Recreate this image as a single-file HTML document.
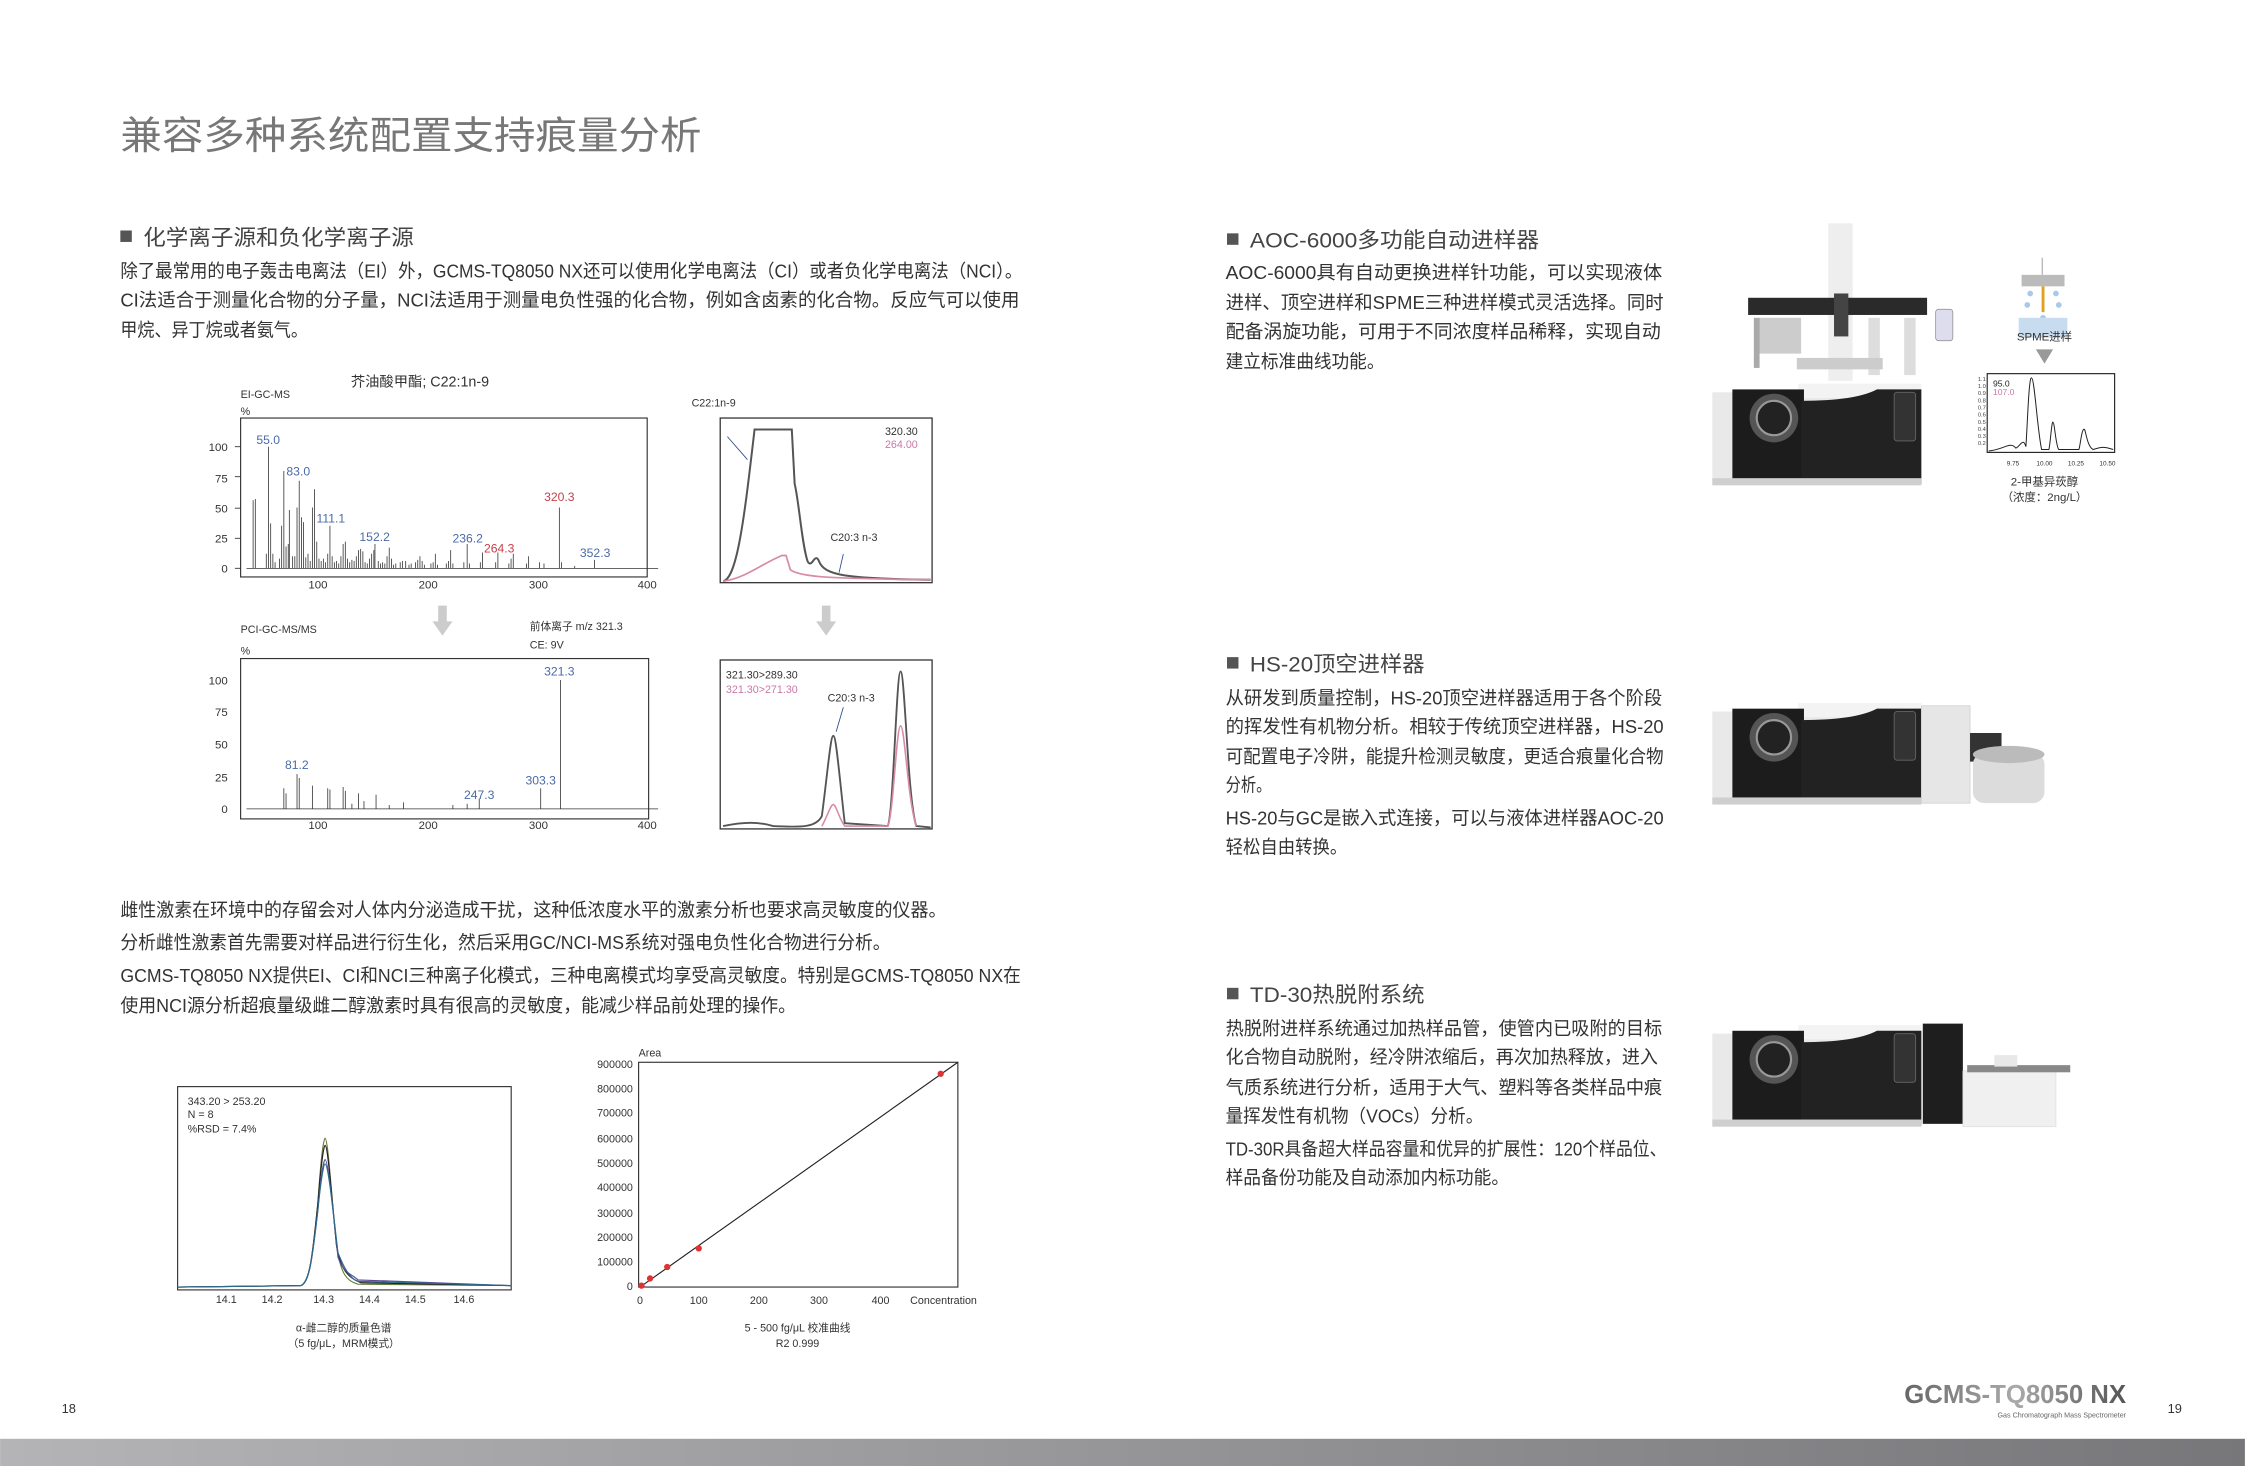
<!DOCTYPE html>
<html><head><meta charset="utf-8"><style>
html,body{margin:0;padding:0;background:#fff;}
svg{display:block;}
text{font-family:"Liberation Sans","Noto Sans CJK SC",sans-serif;}
.b{font-size:13px;fill:#333;}
.h{font-size:15px;fill:#444;}
.ax{font-size:8px;fill:#333;}
.bl{font-size:8.5px;fill:#4a6aa8;}
.rd{font-size:8.5px;fill:#c8404a;}
.s{font-size:7.5px;fill:#333;}
</style></head><body>
<svg width="2245" height="1466" viewBox="0 0 1568 1024" xmlns="http://www.w3.org/2000/svg">
<defs>
<linearGradient id="bar" x1="0" x2="1"><stop offset="0" stop-color="#b4b4b6"/><stop offset="1" stop-color="#77777a"/></linearGradient>
<linearGradient id="logo" x1="0" x2="1"><stop offset="0" stop-color="#666"/><stop offset="0.5" stop-color="#aaa"/><stop offset="1" stop-color="#555"/></linearGradient>
<g id="gc">
<rect x="0" y="6" width="146" height="64" fill="#e9e9ea"/>
<rect x="60" y="0" width="86" height="10" fill="#f3f3f3"/>
<rect x="14" y="4" width="50" height="64" fill="#1c1c1c"/>
<circle cx="43" cy="24" r="17" fill="#555"/>
<circle cx="43" cy="24" r="12" fill="#222" stroke="#999" stroke-width="1.5"/>
<path d="M62 70 L62 12 Q100 12 115 4 L146 4 L146 70 Z" fill="#222"/>
<rect x="127" y="6" width="15" height="34" rx="2" fill="#333" stroke="#666" stroke-width="0.6"/>
<rect x="0" y="66" width="146" height="5" fill="#cfcfcf"/>
</g>
<g id="arr"><rect x="-3" y="0" width="6" height="12" fill="#ccc"/><path d="M-7 11 L7 11 L0 21 Z" fill="#ccc"/></g>
</defs>

<text x="84" y="104" font-size="27" fill="#777" textLength="406" lengthAdjust="spacingAndGlyphs">兼容多种系统配置支持痕量分析</text>

<rect x="84" y="161" width="8" height="8" fill="#555"/>
<text x="100" y="171" class="h" textLength="189" lengthAdjust="spacingAndGlyphs">化学离子源和负化学离子源</text>
<text x="84" y="194" class="b" textLength="630" lengthAdjust="spacingAndGlyphs">除了最常用的电子轰击电离法（EI）外，GCMS-TQ8050 NX还可以使用化学电离法（CI）或者负化学电离法（NCI）。</text>
<text x="84" y="214" class="b" textLength="628" lengthAdjust="spacingAndGlyphs">CI法适合于测量化合物的分子量，NCI法适用于测量电负性强的化合物，例如含卤素的化合物。反应气可以使用</text>
<text x="84" y="235" class="b" textLength="131" lengthAdjust="spacingAndGlyphs">甲烷、异丁烷或者氨气。</text>

<text x="245" y="270" font-size="10" fill="#333">芥油酸甲酯; C22:1n-9</text>
<text x="168" y="278" class="s">EI-GC-MS</text>
<text x="168" y="290" class="s">%</text>
<rect x="168" y="292" width="284" height="111" fill="none" stroke="#333" stroke-width="0.8"/>
<g class="ax" text-anchor="end"><text x="159" y="315">100</text><text x="159" y="337">75</text><text x="159" y="358">50</text><text x="159" y="379">25</text><text x="159" y="400">0</text></g>
<g class="ax" text-anchor="middle"><text x="222" y="411">100</text><text x="299" y="411">200</text><text x="376" y="411">300</text><text x="452" y="411">400</text></g>
<g stroke="#333" stroke-width="0.6"><path d="M164 312H168M164 333H168M164 355H168M164 376H168M164 397H168"/></g>
<g transform="translate(145.3,397) scale(0.7667,-0.85)" stroke="#333" stroke-width="0.8" fill="none">
<path vector-effect="non-scaling-stroke" d="M41 0V56M43 0V57M53 0V12M55 0V100M57 0V37M59 0V12M61 0V5M65 0V8M67 0V35M69 0V80M71 0V18M73 0V20M74 0V48M77 0V10M79 0V10M81 0V50M83 0V72M85 0V42M87 0V38M89 0V9M91 0V12M93 0V6M95 0V50M97 0V65M99 0V22M101 0V8M103 0V6M105 0V8M107 0V5M109 0V12M111 0V35M113 0V10M115 0V5M117 0V6M119 0V4M121 0V10M123 0V20M125 0V22M127 0V8M129 0V5M131 0V7M133 0V6M135 0V10M137 0V15M139 0V16M141 0V14M143 0V5M145 0V4M147 0V8M149 0V12M151 0V15M152 0V20M155 0V6M157 0V4M159 0V5M161 0V4M163 0V10M165 0V17M167 0V8M169 0V3M171 0V4M175 0V5M177 0V6M180 0V6M183 0V3M185 0V4M189 0V5M191 0V7M193 0V10M195 0V6M197 0V3M203 0V4M205 0V5M207 0V12M209 0V3M217 0V4M219 0V6M221 0V15M223 0V4M233 0V5M236 0V20M238 0V4M248 0V5M250 0V13M262 0V5M264 0V13M274 0V4M276 0V8M278 0V12M290 0V4M292 0V10M302 0V5M306 0V4M320 0V50M322 0V5M334 0V2M352 0V7M35 0H410"/>
</g>
<g class="bl"><text x="179" y="310">55.0</text><text x="200" y="332">83.0</text><text x="221" y="365">111.1</text><text x="251" y="378">152.2</text><text x="316" y="379">236.2</text><text x="405" y="389">352.3</text></g>
<g class="rd"><text x="338" y="386">264.3</text><text x="380" y="350">320.3</text></g>

<text x="483" y="284" class="s">C22:1n-9</text>
<rect x="503" y="292" width="148" height="115" fill="none" stroke="#333" stroke-width="0.9"/>
<path d="M505 406 C515 404 520 360 527 300 L553 300 L555 338 C558 350 560 380 564 392 C567 398 569 385 572 392 C576 402 590 404 650 405" fill="none" stroke="#555" stroke-width="1.4"/>
<path d="M505 406 C520 404 530 395 546 388 L549 388 L552 398 C560 404 590 404 650 405" fill="none" stroke="#d88aa8" stroke-width="1.2"/>
<text x="641" y="304" class="s" text-anchor="end">320.30</text>
<text x="641" y="313" class="s" text-anchor="end" style="fill:#c87aa8">264.00</text>
<text x="580" y="378" class="s">C20:3 n-3</text>
<path d="M508 305 L522 321 M589 387 L586 400" stroke="#2a4a8a" stroke-width="0.6" fill="none"/>

<use href="#arr" x="309" y="423"/>
<use href="#arr" x="577" y="423"/>

<text x="168" y="442" class="s">PCI-GC-MS/MS</text>
<text x="168" y="457" class="s">%</text>
<text x="370" y="440" class="s">前体离子 m/z 321.3</text>
<text x="370" y="453" class="s">CE: 9V</text>
<rect x="168" y="460" width="285" height="112" fill="none" stroke="#333" stroke-width="0.8"/>
<g class="ax" text-anchor="end"><text x="159" y="478">100</text><text x="159" y="500">75</text><text x="159" y="523">50</text><text x="159" y="546">25</text><text x="159" y="568">0</text></g>
<g class="ax" text-anchor="middle"><text x="222" y="579">100</text><text x="299" y="579">200</text><text x="376" y="579">300</text><text x="452" y="579">400</text></g>
<g transform="translate(145.3,565) scale(0.7667,-0.9)" stroke="#333" stroke-width="0.8" fill="none">
<path vector-effect="non-scaling-stroke" d="M69 0V16M71 0V12M81 0V27M83 0V24M95 0V18M109 0V16M111 0V15M123 0V17M125 0V14M131 0V4M137 0V12M142 0V6M153 0V11M165 0V3M178 0V5M223 0V3M236 0V4M247 0V8M303 0V16M321 0V100M35 0H410"/>
</g>
<g class="bl"><text x="199" y="537">81.2</text><text x="324" y="558">247.3</text><text x="367" y="548">303.3</text><text x="380" y="472">321.3</text></g>

<rect x="503" y="461" width="148" height="118" fill="none" stroke="#333" stroke-width="0.9"/>
<path d="M505 577 C520 574 530 574 540 577 C560 578 570 578 574 570 C578 540 580 514 582 514 C584 514 586 540 590 575 L620 577 C624 570 626 469 629 469 C632 469 634 560 640 577 L650 578" fill="none" stroke="#555" stroke-width="1.3"/>
<path d="M574 577 C578 570 580 562 582 562 C584 562 586 572 590 577 L620 577 C624 570 626 507 629 507 C632 507 634 560 640 577" fill="none" stroke="#d88aa8" stroke-width="1.1"/>
<text x="507" y="474" class="s">321.30&gt;289.30</text>
<text x="507" y="484" class="s" style="fill:#c87aa8">321.30&gt;271.30</text>
<text x="578" y="490" class="s">C20:3 n-3</text>
<path d="M589 494 L584 511" stroke="#2a4a8a" stroke-width="0.6"/>

<text x="84" y="640" class="b" textLength="577" lengthAdjust="spacingAndGlyphs">雌性激素在环境中的存留会对人体内分泌造成干扰，这种低浓度水平的激素分析也要求高灵敏度的仪器。</text>
<text x="84" y="663" class="b" textLength="538" lengthAdjust="spacingAndGlyphs">分析雌性激素首先需要对样品进行衍生化，然后采用GC/NCI-MS系统对强电负性化合物进行分析。</text>
<text x="84" y="686" class="b" textLength="629" lengthAdjust="spacingAndGlyphs">GCMS-TQ8050 NX提供EI、CI和NCI三种离子化模式，三种电离模式均享受高灵敏度。特别是GCMS-TQ8050 NX在</text>
<text x="84" y="707" class="b" textLength="472" lengthAdjust="spacingAndGlyphs">使用NCI源分析超痕量级雌二醇激素时具有很高的灵敏度，能减少样品前处理的操作。</text>

<rect x="124" y="759" width="233" height="142" fill="none" stroke="#333" stroke-width="0.8"/>
<text x="131" y="772" class="s">343.20 &gt; 253.20</text>
<text x="131" y="781" class="s">N = 8</text>
<text x="131" y="791" class="s">%RSD = 7.4%</text>
<g fill="none" stroke-width="0.8">
<path d="M124 899 L210 898 C216 896 218 880 222 840 C224 810 226 795 227 795 C229 795 231 830 235 870 C238 890 242 895 250 897 L357 898" stroke="#6a7a3a"/>
<path d="M124 899 L210 898 C216 896 218 880 222 840 C224 815 226 800 227 800 C229 800 231 830 235 870 C238 888 244 893 252 896 L357 898" stroke="#222"/>
<path d="M124 899 L210 898 C216 896 218 880 222 845 C224 822 226 810 227 810 C229 810 232 840 236 878 C240 890 246 890 250 894 L357 898" stroke="#5a4a9a"/>
<path d="M124 899 L210 898 C216 896 218 880 222 845 C224 825 226 813 227 813 C229 813 232 840 236 875 C240 885 244 893 250 895 L357 898" stroke="#2a6a8a"/>
</g>
<g class="s" text-anchor="middle" font-size="6.5"><text x="158" y="910">14.1</text><text x="190" y="910">14.2</text><text x="226" y="910">14.3</text><text x="258" y="910">14.4</text><text x="290" y="910">14.5</text><text x="324" y="910">14.6</text></g>
<text x="240" y="930" class="s" text-anchor="middle">α-雌二醇的质量色谱</text>
<text x="240" y="941" class="s" text-anchor="middle">（5 fg/μL，MRM模式）</text>

<text x="446" y="738" class="s" font-size="6.5">Area</text>
<rect x="446" y="742" width="223" height="157" fill="none" stroke="#333" stroke-width="0.8"/>
<g class="s" text-anchor="end" font-size="6"><text x="442" y="746">900000</text><text x="442" y="763">800000</text><text x="442" y="780">700000</text><text x="442" y="798">600000</text><text x="442" y="815">500000</text><text x="442" y="832">400000</text><text x="442" y="850">300000</text><text x="442" y="867">200000</text><text x="442" y="884">100000</text><text x="442" y="901">0</text></g>
<g class="s" text-anchor="middle" font-size="6.5"><text x="447" y="911">0</text><text x="488" y="911">100</text><text x="530" y="911">200</text><text x="572" y="911">300</text><text x="615" y="911">400</text><text x="659" y="911">Concentration</text></g>
<path d="M447 899 L669 742" stroke="#222" stroke-width="0.8"/>
<g fill="#d33"><circle cx="448" cy="898" r="2.2"/><circle cx="454" cy="893" r="2.2"/><circle cx="466" cy="885" r="2.2"/><circle cx="488" cy="872" r="2.2"/><circle cx="657" cy="750" r="2.2"/></g>
<text x="557" y="930" class="s" text-anchor="middle">5 - 500 fg/μL 校准曲线</text>
<text x="557" y="941" class="s" text-anchor="middle">R2  0.999</text>

<rect x="857" y="163" width="8" height="8" fill="#555"/>
<text x="873" y="173" class="h" textLength="202" lengthAdjust="spacingAndGlyphs">AOC-6000多功能自动进样器</text>
<text x="856" y="195" class="b" textLength="305" lengthAdjust="spacingAndGlyphs">AOC-6000具有自动更换进样针功能，可以实现液体</text>
<text x="856" y="216" class="b" textLength="306" lengthAdjust="spacingAndGlyphs">进样、顶空进样和SPME三种进样模式灵活选择。同时</text>
<text x="856" y="236" class="b" textLength="304" lengthAdjust="spacingAndGlyphs">配备涡旋功能，可用于不同浓度样品稀释，实现自动</text>
<text x="856" y="257" class="b" textLength="111" lengthAdjust="spacingAndGlyphs">建立标准曲线功能。</text>

<rect x="1277" y="156" width="17" height="110" fill="#eee"/>
<rect x="1221" y="208" width="125" height="12" fill="#2a2a2a"/>
<rect x="1281" y="205" width="10" height="30" fill="#444"/>
<rect x="1352" y="216" width="12" height="22" rx="2" fill="#dde" stroke="#888" stroke-width="0.5"/>
<rect x="1228" y="222" width="30" height="25" fill="#ccc"/>
<rect x="1225" y="222" width="4" height="35" fill="#aaa"/>
<rect x="1305" y="222" width="8" height="40" fill="#ddd"/>
<rect x="1330" y="222" width="8" height="40" fill="#ddd"/>
<rect x="1255" y="250" width="60" height="8" fill="#ccc"/>
<use href="#gc" x="1196" y="268"/>

<rect x="1426" y="180" width="1" height="12" fill="#bbb"/>
<rect x="1412" y="192" width="30" height="8" fill="#bbb"/>
<rect x="1426" y="200" width="2" height="18" fill="#e0a020"/>
<g fill="#aac8e8"><circle cx="1418" cy="205" r="2"/><circle cx="1436" cy="205" r="2"/><circle cx="1416" cy="213" r="2"/><circle cx="1438" cy="213" r="2"/><circle cx="1427" cy="222" r="2"/></g>
<rect x="1410" y="222" width="34" height="14" fill="#c8dcf0"/>
<text x="1428" y="238" font-size="8" fill="#333" text-anchor="middle">SPME进样</text>
<path d="M1422 244 L1434 244 L1428 254 Z" fill="#999"/>
<rect x="1388" y="261" width="89" height="55" fill="none" stroke="#222" stroke-width="0.8"/>
<text x="1392" y="270" font-size="6" fill="#222">95.0</text>
<text x="1392" y="276" font-size="6" fill="#c87aa8">107.0</text>
<g font-size="4" fill="#444" text-anchor="end"><text x="1387" y="266">1.1</text><text x="1387" y="271">1.0</text><text x="1387" y="276">0.9</text><text x="1387" y="281">0.8</text><text x="1387" y="286">0.7</text><text x="1387" y="291">0.6</text><text x="1387" y="296">0.5</text><text x="1387" y="301">0.4</text><text x="1387" y="306">0.3</text><text x="1387" y="311">0.2</text></g>
<path d="M1389 315 C1400 314 1404 308 1408 313 C1411 312 1413 305 1415 312 C1416 300 1417 262 1419 264 C1421 264 1423 300 1426 314 L1431 314 C1432 312 1433 293 1434 295 C1435 295 1436 312 1438 314 L1452 314 C1453 312 1454 298 1456 300 C1457 302 1458 312 1462 314 C1468 312 1470 312 1476 314" fill="none" stroke="#222" stroke-width="0.7"/>
<g font-size="4.5" fill="#333" text-anchor="middle"><text x="1406" y="325">9.75</text><text x="1428" y="325">10.00</text><text x="1450" y="325">10.25</text><text x="1472" y="325">10.50</text></g>
<text x="1428" y="339" font-size="8" fill="#333" text-anchor="middle">2-甲基异莰醇</text>
<text x="1428" y="350" font-size="8" fill="#333" text-anchor="middle">（浓度：2ng/L）</text>

<rect x="857" y="459" width="8" height="8" fill="#555"/>
<text x="873" y="469" class="h" textLength="122" lengthAdjust="spacingAndGlyphs">HS-20顶空进样器</text>
<text x="856" y="492" class="b" textLength="305" lengthAdjust="spacingAndGlyphs">从研发到质量控制，HS-20顶空进样器适用于各个阶段</text>
<text x="856" y="512" class="b" textLength="306" lengthAdjust="spacingAndGlyphs">的挥发性有机物分析。相较于传统顶空进样器，HS-20</text>
<text x="856" y="533" class="b" textLength="306" lengthAdjust="spacingAndGlyphs">可配置电子冷阱，能提升检测灵敏度，更适合痕量化合物</text>
<text x="856" y="553" class="b" textLength="32" lengthAdjust="spacingAndGlyphs">分析。</text>
<text x="856" y="576" class="b" textLength="306" lengthAdjust="spacingAndGlyphs">HS-20与GC是嵌入式连接，可以与液体进样器AOC-20</text>
<text x="856" y="596" class="b" textLength="85" lengthAdjust="spacingAndGlyphs">轻松自由转换。</text>
<use href="#gc" x="1196" y="491"/>
<rect x="1342" y="493" width="34" height="68" fill="#e6e6e6" stroke="#ccc" stroke-width="0.5"/>
<rect x="1376" y="512" width="22" height="20" fill="#333"/>
<rect x="1378" y="526" width="50" height="35" rx="8" fill="#dcdcdc"/>
<ellipse cx="1403" cy="527" rx="25" ry="6" fill="#bbb"/>

<rect x="857" y="690" width="8" height="8" fill="#555"/>
<text x="873" y="700" class="h" textLength="122" lengthAdjust="spacingAndGlyphs">TD-30热脱附系统</text>
<text x="856" y="723" class="b" textLength="305" lengthAdjust="spacingAndGlyphs">热脱附进样系统通过加热样品管，使管内已吸附的目标</text>
<text x="856" y="743" class="b" textLength="302" lengthAdjust="spacingAndGlyphs">化合物自动脱附，经冷阱浓缩后，再次加热释放，进入</text>
<text x="856" y="764" class="b" textLength="305" lengthAdjust="spacingAndGlyphs">气质系统进行分析，适用于大气、塑料等各类样品中痕</text>
<text x="856" y="784" class="b" textLength="180" lengthAdjust="spacingAndGlyphs">量挥发性有机物（VOCs）分析。</text>
<text x="856" y="807" class="b" textLength="308" lengthAdjust="spacingAndGlyphs">TD-30R具备超大样品容量和优异的扩展性：120个样品位、</text>
<text x="856" y="827" class="b" textLength="198" lengthAdjust="spacingAndGlyphs">样品备份功能及自动添加内标功能。</text>
<use href="#gc" x="1196" y="716"/>
<rect x="1343" y="715" width="28" height="70" fill="#1e1e1e"/>
<rect x="1371" y="748" width="65" height="39" fill="#f0f0f0" stroke="#ddd" stroke-width="0.5"/>
<rect x="1374" y="744" width="72" height="5" fill="#888"/>
<rect x="1393" y="737" width="16" height="8" fill="#e8e8e8"/>

<text x="48" y="987" font-size="9" fill="#333" text-anchor="middle">18</text>
<text x="1519" y="987" font-size="9" fill="#333" text-anchor="middle">19</text>
<text x="1485" y="980" font-size="18" font-weight="bold" fill="url(#logo)" text-anchor="end">GCMS-TQ8050 NX</text>
<text x="1485" y="990" font-size="5" fill="#666" text-anchor="end">Gas Chromatograph Mass Spectrometer</text>
<rect x="0" y="1005" width="1568" height="19" fill="url(#bar)"/>
</svg>
</body></html>
